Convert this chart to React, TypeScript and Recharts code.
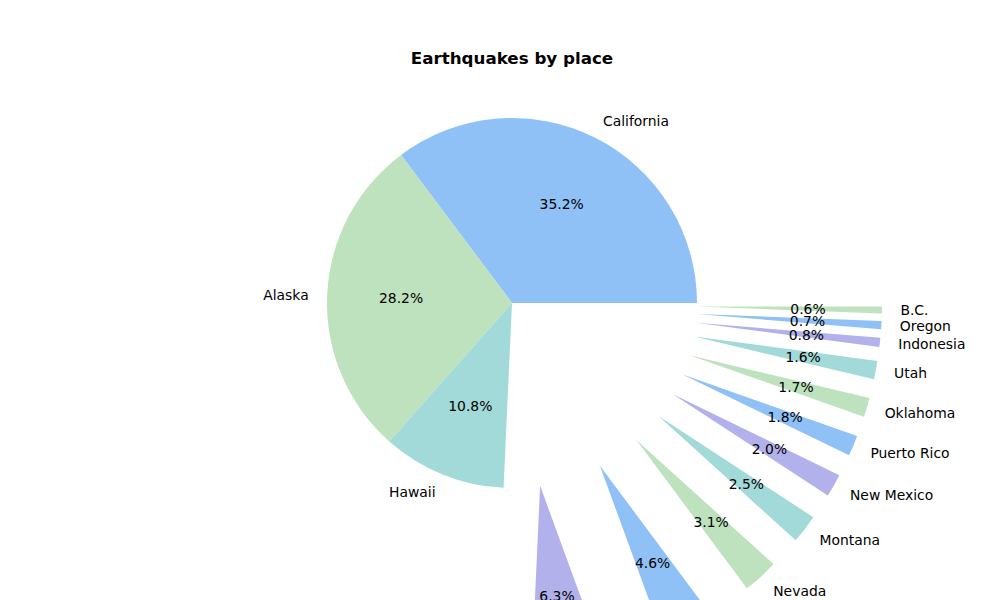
import { PieChart, Pie, Cell, Sector } from 'recharts';

// Share of earthquakes per place (percent)
const places = [
  'California', 'Alaska', 'Hawaii', 'Washington', 'Idaho', 'Nevada', 'Montana',
  'New Mexico', 'Puerto Rico', 'Oklahoma', 'Utah', 'Indonesia', 'Oregon', 'B.C.',
];
const shares = [35.2, 28.2, 10.8, 6.3, 4.6, 3.1, 2.5, 2.0, 1.8, 1.7, 1.6, 0.8, 0.7, 0.6];
const palette = ['#8fc1f6', '#bde2bd', '#a2d9d9', '#b2b1ec'];

const data = places.map((name, i) => ({ name, value: shares[i] }));

const RADIAN = Math.PI / 180;
const FONT = '"DejaVu Sans", sans-serif';
const EXPLODED_FROM = 3; // slices after Hawaii are pulled out by one radius

function SliceLabel(props: any) {
  const { cx, cy, midAngle, startAngle, endAngle, outerRadius, percent, name, index } = props;
  const cos = Math.cos(-midAngle * RADIAN);
  const sin = Math.sin(-midAngle * RADIAN);
  const shift = index >= EXPLODED_FROM ? outerRadius : 0;
  const ox = cx + shift * cos;
  const oy = cy + shift * sin;
  const lx = ox + outerRadius * 1.1 * cos;
  const ly = oy + outerRadius * 1.1 * sin;
  const px = ox + outerRadius * 0.6 * cos;
  const py = oy + outerRadius * 0.6 * sin;
  return (
    <g>
      {shift > 0 && (
        <Sector
          cx={ox}
          cy={oy}
          innerRadius={0}
          outerRadius={outerRadius}
          startAngle={startAngle}
          endAngle={endAngle}
          fill={palette[index % palette.length]}
          stroke="none"
        />
      )}
      <text x={px} y={py} textAnchor="middle" dominantBaseline="central" fontFamily={FONT} fontSize={13.9} fill="#000">
        {`${(percent * 100).toFixed(1)}%`}
      </text>
      <text x={lx} y={ly} textAnchor={cos > 0 ? 'start' : 'end'} dominantBaseline="central" fontFamily={FONT} fontSize={13.9} fill="#000">
        {name}
      </text>
    </g>
  );
}

export default function App() {
  return (
    <div style={{ position: 'absolute', left: 0, top: 0, width: 1000, height: 600, background: '#fff', overflow: 'hidden' }}>
      <div
        style={{
          position: 'absolute', left: 0, top: 48, width: 1024, textAlign: 'center',
          fontFamily: FONT, fontWeight: 'bold', fontSize: 16.7, color: '#000',
        }}
      >
        Earthquakes by place
      </div>
      <PieChart width={1000} height={600} style={{ position: 'absolute', left: 0, top: 0 }}>
        <Pie
          data={data}
          dataKey="value"
          nameKey="name"
          cx={507}
          cy={298}
          innerRadius={0}
          outerRadius={185}
          startAngle={0}
          endAngle={360}
          stroke="none"
          labelLine={false}
          label={SliceLabel}
          isAnimationActive={false}
        >
          {data.map((d, i) => (
            <Cell key={d.name} fill={i >= EXPLODED_FROM ? 'none' : palette[i % palette.length]} />
          ))}
        </Pie>
      </PieChart>
    </div>
  );
}
